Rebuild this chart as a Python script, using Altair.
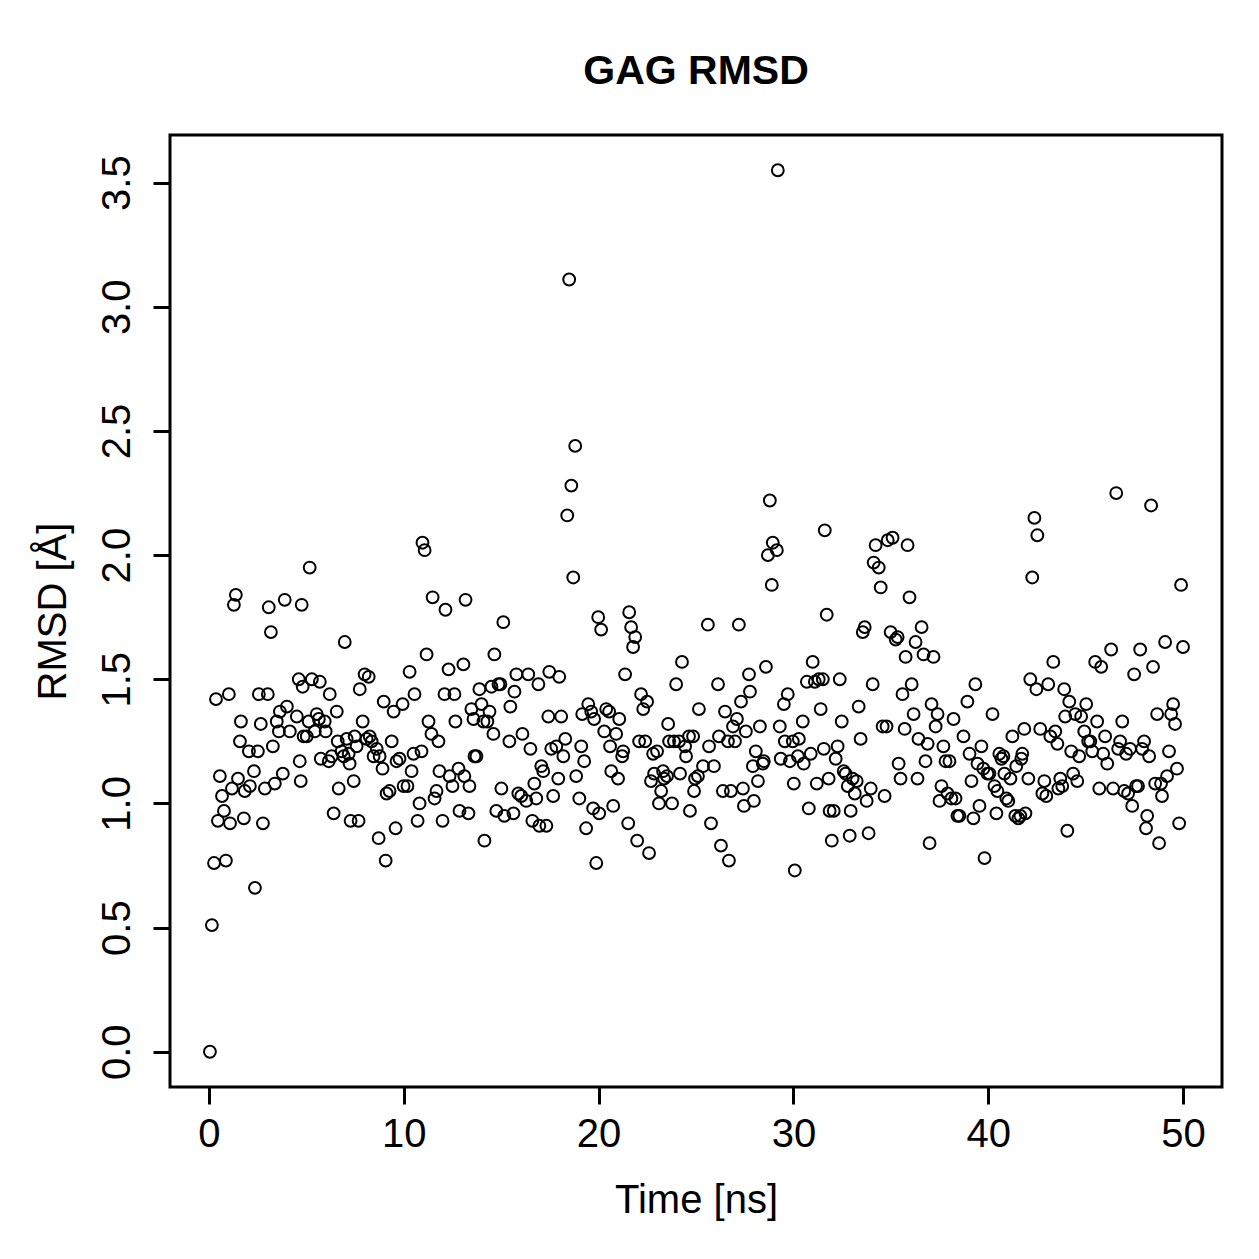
import altair as alt
import pandas as pd

# ---- data (time in ns, RMSD in Å) ----
t_00_05 = [0.05,0.15,0.26,0.36,0.46,0.56,0.67,0.77,0.87,1.02,1.08,1.18,1.28,1.38,1.49,1.59,1.64,1.79,1.84,2.05,
           2.10,2.31,2.36,2.51,2.56,2.66,2.77,2.87,3.02,3.07,3.18,3.28,3.38,3.48,3.59,3.64,3.79,3.89,4.00,4.15]
r_00_05 = [0.00,0.51,0.76,1.42,0.93,1.11,1.03,0.97,0.77,1.44,0.92,1.06,1.80,1.84,1.10,1.25,1.33,0.94,1.05,1.21,
           1.07,1.13,0.66,1.21,1.44,1.32,0.92,1.06,1.44,1.79,1.69,1.23,1.08,1.33,1.29,1.37,1.12,1.82,1.39,1.29]

t_05_10 = [4.51,4.61,4.66,4.71,4.76,4.81,4.86,5.02,5.12,5.17,5.28,5.43,5.53,5.64,5.69,5.74,5.94,5.99,6.15,6.20,
           6.30,6.40,6.56,6.61,6.66,6.81,6.92,6.97,7.07,7.17,7.22,7.27,7.43,7.48,7.58,7.68,7.74,7.89,7.99,8.09,
           8.20,8.25,8.35,8.45,8.61,8.71,8.76,8.91,8.97,9.07,9.12,9.27,9.38,9.48,9.58,9.63,9.78,9.94,9.99]
r_05_10 = [1.35,1.50,1.17,1.09,1.80,1.47,1.27,1.27,1.33,1.95,1.50,1.29,1.36,1.34,1.49,1.18,1.33,1.29,1.17,1.44,
           1.19,0.96,1.37,1.25,1.06,1.21,1.19,1.65,1.26,1.20,1.16,0.93,1.09,1.27,1.23,0.93,1.46,1.33,1.52,1.26,
           1.51,1.27,1.25,1.19,1.22,0.86,1.19,1.14,1.41,0.77,1.04,1.05,1.25,1.37,0.90,1.17,1.18,1.40,1.07]

t_10_15 = [10.19,10.30,10.40,10.50,10.55,10.71,10.81,10.91,10.96,11.07,11.17,11.27,11.42,11.48,11.58,11.68,11.78,11.83,11.99,12.09,
           12.14,12.30,12.35,12.50,12.60,12.65,12.81,12.86,13.06,13.11,13.17,13.32,13.37,13.47,13.58,13.63,13.73,13.88,13.99,14.09,
           14.14,14.29,14.40,14.50,14.60,14.65,14.75,14.86,14.96,15.01,15.11,15.16]
r_10_15 = [1.07,1.53,1.13,1.20,1.44,0.93,1.00,1.21,2.05,2.02,1.60,1.33,1.28,1.83,1.02,1.05,1.25,1.13,0.93,1.44,
           1.78,1.54,1.11,1.07,1.44,1.33,1.14,0.97,1.56,1.11,1.82,0.96,1.07,1.38,1.34,1.19,1.19,1.46,1.40,1.33,
           0.85,1.33,1.37,1.47,1.28,1.60,0.97,1.48,1.48,1.06,1.73,0.95]

t_15_20 = [15.42,15.47,15.63,15.68,15.78,15.88,16.03,16.09,16.29,16.39,16.50,16.60,16.70,16.80,16.91,16.96,17.06,17.16,17.32,17.42,
           17.47,17.57,17.67,17.83,17.93,17.98,18.08,18.19,18.29,18.39,18.49,18.60,18.70,18.80,18.85,19.01,19.11,19.16,19.26,19.36,
           19.47,19.62,19.72,19.77,19.88,19.98,20.03,20.13]
r_15_20 = [1.25,1.39,0.96,1.45,1.52,1.04,1.03,1.28,1.01,1.52,1.22,0.93,1.08,1.02,1.48,0.91,1.15,1.13,0.91,1.35,
           1.53,1.22,1.03,1.23,1.10,1.51,1.35,1.19,1.26,2.16,3.11,2.28,1.91,2.44,1.11,1.02,1.23,1.36,1.17,0.90,
           1.40,1.37,0.98,1.34,0.76,1.75,0.96,1.70]

t_20_25 = [20.29,20.39,20.54,20.59,20.65,20.75,20.90,21.00,21.06,21.21,21.26,21.36,21.52,21.57,21.67,21.77,21.88,21.98,22.08,22.18,
           22.29,22.39,22.49,22.59,22.69,22.80,22.85,23.00,23.10,23.21,23.31,23.36,23.51,23.57,23.62,23.77,23.87,23.98,24.13,24.18,
           24.28,24.44,24.49,24.64,24.69,24.85,24.90,24.95,25.10,25.15,25.36]
r_20_25 = [1.29,1.38,1.37,1.23,1.13,0.99,1.28,1.10,1.34,1.19,1.21,1.52,0.92,1.77,1.71,1.63,1.67,0.85,1.25,1.44,
           1.38,1.25,1.41,0.80,1.09,1.20,1.12,1.21,1.00,1.05,1.13,1.10,1.11,1.32,1.25,1.00,1.25,1.48,1.25,1.12,
           1.57,1.23,1.19,1.27,0.97,1.27,1.05,1.10,1.11,1.38,1.15]

t_25_30 = [25.61,25.67,25.77,25.92,26.13,26.18,26.28,26.38,26.49,26.64,26.69,26.79,26.90,27.00,27.10,27.20,27.31,27.41,27.46,27.56,
           27.72,27.77,27.92,27.97,28.07,28.18,28.28,28.43,28.48,28.59,28.69,28.79,28.89,28.94,29.15,29.20,29.30,29.35,29.51,29.56,
           29.71,29.82,29.97,30.02,30.07,30.23,30.28,30.48,30.53]
r_25_30 = [1.72,1.23,0.92,1.15,1.48,1.27,0.83,1.05,1.37,1.25,0.77,1.05,1.31,1.25,1.34,1.72,1.41,1.06,0.99,1.29,
           1.52,1.45,1.15,1.01,1.21,1.09,1.31,1.16,1.17,1.55,2.00,2.22,1.88,2.05,2.02,3.55,1.31,1.18,1.40,1.25,
           1.44,1.17,1.25,1.08,0.73,1.19,1.26,1.33,1.16]

t_30_40 = [30.69,30.79,30.89,30.99,31.10,31.20,31.30,31.40,31.51,31.56,31.61,31.71,31.81,31.86,31.97,32.07,32.17,32.27,32.38,32.48,
           32.58,32.68,32.79,32.89,32.94,33.04,33.15,33.25,33.35,33.45,33.56,33.66,33.76,33.86,33.97,34.07,34.12,34.22,34.38,34.48,
           34.58,34.68,34.78,34.84,34.99,35.09,35.25,35.35,35.40,35.50,35.60,35.71,35.76,35.86,35.96,36.07,36.17,36.27,36.37,36.42,
           36.58,36.68,36.78,36.89,36.99,37.09,37.19,37.30,37.40,37.50,37.60,37.70,37.81,37.91,38.01,38.11,38.22,38.32,38.42,38.52,
           38.73,38.93,39.04,39.14,39.24,39.34,39.45,39.55,39.65,39.75,39.81,39.96]
r_30_40 = [1.49,0.98,1.20,1.57,1.49,1.08,1.50,1.38,1.50,1.22,2.10,1.76,1.10,0.97,0.85,0.97,1.18,1.23,1.50,1.33,
           1.13,1.12,1.07,0.87,0.97,1.10,1.04,1.09,1.39,1.26,1.69,1.71,1.01,0.88,1.06,1.48,1.97,2.04,1.95,1.87,
           1.31,1.03,1.31,2.06,1.69,2.07,1.66,1.67,1.16,1.10,1.44,1.30,1.59,2.04,1.83,1.48,1.36,1.65,1.10,1.26,
           1.71,1.60,1.17,1.24,0.84,1.40,1.59,1.31,1.36,1.01,1.07,1.23,1.17,1.04,1.17,1.02,1.34,1.02,0.95,0.95,
           1.27,1.41,1.20,1.09,0.94,1.48,1.16,0.99,1.23,1.14,0.78,1.12]

t_40_50 = [40.06,40.22,40.32,40.42,40.47,40.57,40.68,40.78,40.83,40.93,41.03,41.14,41.24,41.39,41.44,41.55,41.65,41.70,41.75,41.85,
           41.91,42.06,42.16,42.26,42.37,42.47,42.52,42.67,42.78,42.88,42.98,43.08,43.19,43.34,43.44,43.55,43.60,43.70,43.80,43.90,
           43.95,44.06,44.16,44.26,44.36,44.47,44.57,44.67,44.77,44.93,45.03,45.13,45.24,45.34,45.49,45.59,45.70,45.80,45.90,46.00,
           46.11,46.31,46.41,46.57,46.67,46.77,46.88,46.98,47.08,47.18,47.28,47.39,47.49,47.59,47.69,47.80,47.90,48.00,48.10,48.16,
           48.26,48.36,48.46,48.57,48.67,48.77,48.87,48.92,49.08,49.18,49.28,49.39,49.49,49.59,49.69,49.80,49.90,50.00]
r_40_50 = [1.12,1.36,1.07,0.96,1.05,1.20,1.18,1.19,1.12,1.02,1.01,1.10,1.27,0.95,1.15,0.94,0.95,1.18,1.20,1.30,
           0.96,1.10,1.50,1.91,2.15,1.46,2.08,1.30,1.04,1.09,1.03,1.48,1.27,1.57,1.29,1.24,1.06,1.10,1.07,1.46,
           1.35,0.89,1.41,1.21,1.12,1.36,1.09,1.19,1.35,1.29,1.40,1.25,1.25,1.21,1.57,1.33,1.06,1.55,1.20,1.27,
           1.16,1.62,1.06,2.25,1.22,1.25,1.33,1.05,1.20,1.04,1.22,0.99,1.52,1.07,1.07,1.62,1.22,1.25,0.90,0.95,
           1.19,2.20,1.55,1.08,1.36,0.84,1.08,1.03,1.65,1.11,1.21,1.36,1.40,1.32,1.14,0.92,1.88,1.63]

x_ticks = [0, 10, 20, 30, 40, 50]
y_ticks = [0.0, 0.5, 1.0, 1.5, 2.0, 2.5, 3.0, 3.5]

times = t_00_05 + t_05_10 + t_10_15 + t_15_20 + t_20_25 + t_25_30 + t_30_40 + t_40_50
rmsds = r_00_05 + r_05_10 + r_10_15 + r_15_20 + r_20_25 + r_25_30 + r_30_40 + r_40_50
df = pd.DataFrame({"time": times, "rmsd": rmsds})

FONT = "Liberation Sans"

chart = alt.Chart(df).mark_point(
    shape="circle", filled=False, size=140, strokeWidth=2, color="black", opacity=1
).encode(
    x=alt.X("time:Q",
            scale=alt.Scale(domain=[-2, 52], nice=False, zero=False),
            axis=alt.Axis(values=x_ticks, title="Time [ns]", format="d",
                          labelPadding=10, titlePadding=26)),
    y=alt.Y("rmsd:Q",
            scale=alt.Scale(domain=[-0.142, 3.692], nice=False, zero=False),
            axis=alt.Axis(values=y_ticks, title="RMSD [Å]", format=".1f",
                          labelAngle=270, labelAlign="center", labelBaseline="alphabetic",
                          labelPadding=24, titlePadding=24)),
).properties(
    width=1052, height=952,
    title=alt.TitleParams("GAG RMSD", fontSize=41, fontWeight="bold", font=FONT,
                          color="black", anchor="middle", baseline="alphabetic", offset=10),
    padding={"left": 170, "top": 135, "right": 37, "bottom": 172},
    autosize=alt.AutoSizeParams(type="none"),
).configure_view(
    stroke="black", strokeWidth=3
).configure_axis(
    domain=False, grid=False, ticks=True, tickSize=17, tickWidth=3, tickColor="black",
    labelFont=FONT, labelFontSize=40, labelColor="black",
    titleFont=FONT, titleFontSize=40, titleFontWeight="normal", titleColor="black",
    labelOverlap=False, labelFlush=False,
)

chart.save("out.html", embed_options={"renderer": "svg", "actions": False})
